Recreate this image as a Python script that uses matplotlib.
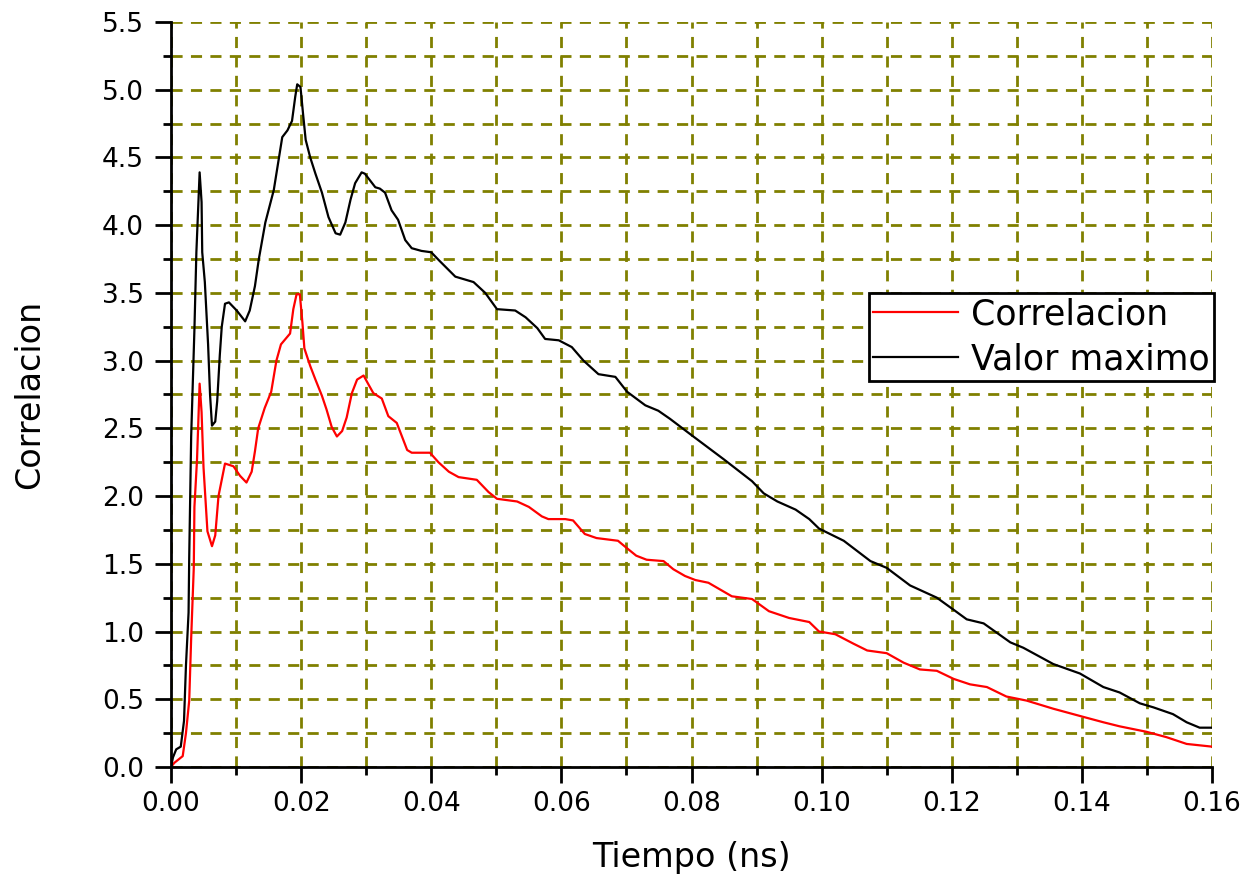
import matplotlib
matplotlib.use("Agg")
from matplotlib import pyplot as plt
from matplotlib.ticker import MultipleLocator


# tiempo (ns) y valores
t_max = [0, 0.0003, 0.0008, 0.0015, 0.002, 0.0023, 0.0027, 0.0028, 0.0031, 0.0036,
         0.0039, 0.0044, 0.0047, 0.0048, 0.0052, 0.0057, 0.0060, 0.0063, 0.0068, 0.0071,
         0.0075, 0.0078, 0.0083, 0.0089, 0.0101, 0.0114, 0.0121, 0.0129, 0.0135, 0.0145,
         0.0158, 0.0166, 0.0171, 0.0179, 0.0186, 0.0191, 0.0194, 0.0199, 0.0203, 0.0207,
         0.0214, 0.0222, 0.0232, 0.0242, 0.0253, 0.0260, 0.0268, 0.0276, 0.0283, 0.0293,
         0.0298, 0.0306, 0.0314, 0.0321, 0.0329, 0.0339, 0.0349, 0.0360, 0.0370, 0.0385,
         0.0400, 0.0412, 0.0437, 0.0465, 0.0483, 0.0501, 0.0529, 0.0545, 0.0563, 0.0575,
         0.0596, 0.0616, 0.0634, 0.0657, 0.0683, 0.0701, 0.0729, 0.0749, 0.0767, 0.0800,
         0.0850, 0.0893, 0.0911, 0.0932, 0.0960, 0.0981, 0.0996, 0.1034, 0.1075, 0.1100,
         0.1136, 0.1177, 0.1203, 0.1223, 0.1249, 0.1290, 0.1310, 0.1356, 0.1397, 0.1433,
         0.1458, 0.1489, 0.1510, 0.1540, 0.1561, 0.1581, 0.1600]
valor_maximo = [0, 0.07, 0.13, 0.15, 0.34, 0.75, 1.14, 1.55, 2.44, 3.23,
                3.80, 4.39, 4.17, 3.80, 3.58, 3.12, 2.75, 2.52, 2.55, 2.70,
                3.04, 3.25, 3.42, 3.43, 3.37, 3.29, 3.37, 3.55, 3.75, 4.02,
                4.26, 4.50, 4.65, 4.70, 4.77, 4.95, 5.04, 5.02, 4.82, 4.63,
                4.50, 4.38, 4.24, 4.06, 3.94, 3.93, 4.02, 4.19, 4.31, 4.39,
                4.38, 4.33, 4.28, 4.27, 4.24, 4.11, 4.04, 3.89, 3.83, 3.81,
                3.80, 3.74, 3.62, 3.58, 3.50, 3.38, 3.37, 3.32, 3.24, 3.16,
                3.15, 3.10, 3.00, 2.90, 2.88, 2.77, 2.67, 2.63, 2.57, 2.45,
                2.27, 2.11, 2.02, 1.96, 1.90, 1.83, 1.76, 1.67, 1.52, 1.47,
                1.34, 1.25, 1.16, 1.09, 1.06, 0.92, 0.88, 0.76, 0.69, 0.59,
                0.55, 0.47, 0.44, 0.39, 0.33, 0.29, 0.29]

t_corr = [0, 0.0005, 0.0018, 0.0023, 0.0028, 0.0031, 0.0035, 0.0036, 0.0040, 0.0044,
          0.0047, 0.0050, 0.0056, 0.0063, 0.0068, 0.0073, 0.0078, 0.0083, 0.0096, 0.0106,
          0.0116, 0.0124, 0.0129, 0.0134, 0.0144, 0.0154, 0.0162, 0.0169, 0.0183, 0.0188,
          0.0193, 0.0198, 0.0202, 0.0205, 0.0214, 0.0222, 0.0232, 0.0239, 0.0247, 0.0255,
          0.0263, 0.0270, 0.0278, 0.0286, 0.0296, 0.0304, 0.0311, 0.0324, 0.0334, 0.0347,
          0.0355, 0.0363, 0.0370, 0.0398, 0.0411, 0.0427, 0.0442, 0.0470, 0.0488, 0.0501,
          0.0532, 0.0550, 0.0570, 0.0580, 0.0606, 0.0618, 0.0636, 0.0654, 0.0687, 0.0697,
          0.0715, 0.0731, 0.0757, 0.0772, 0.0790, 0.0806, 0.0826, 0.0862, 0.0893, 0.0919,
          0.0950, 0.0981, 0.0996, 0.1021, 0.1049, 0.1070, 0.1100, 0.1126, 0.1151, 0.1177,
          0.1203, 0.1228, 0.1254, 0.1284, 0.1315, 0.1356, 0.1402, 0.1433, 0.1458, 0.1499,
          0.1530, 0.1561, 0.1600]
correlacion = [0, 0.03, 0.08, 0.25, 0.49, 0.95, 1.47, 1.92, 2.27, 2.83,
               2.62, 2.21, 1.74, 1.63, 1.71, 2.00, 2.12, 2.24, 2.22, 2.15,
               2.10, 2.18, 2.33, 2.50, 2.65, 2.77, 3.00, 3.12, 3.20, 3.38,
               3.49, 3.49, 3.28, 3.09, 2.96, 2.86, 2.74, 2.64, 2.51, 2.44,
               2.48, 2.58, 2.76, 2.86, 2.89, 2.82, 2.76, 2.72, 2.59, 2.54,
               2.44, 2.34, 2.32, 2.32, 2.25, 2.18, 2.14, 2.12, 2.03, 1.98,
               1.96, 1.92, 1.85, 1.83, 1.83, 1.82, 1.72, 1.69, 1.67, 1.63,
               1.56, 1.53, 1.52, 1.46, 1.41, 1.38, 1.36, 1.26, 1.24, 1.15,
               1.10, 1.07, 1.00, 0.98, 0.91, 0.86, 0.84, 0.77, 0.72, 0.71,
               0.65, 0.61, 0.59, 0.52, 0.49, 0.43, 0.37, 0.33, 0.30, 0.26,
               0.22, 0.17, 0.15]

plt.rcParams['font.family'] = ['DejaVu Sans']

fig = plt.figure(figsize=(12.5, 8.84), dpi=100)
ax = fig.add_axes([0.1368, 0.1324, 0.8328, 0.8427])

ax.plot(t_corr, correlacion, color="red", linewidth=1.6, label="Correlacion")
ax.plot(t_max, valor_maximo, color="black", linewidth=1.6, label="Valor maximo")

ax.set_xlim(0, 0.16)
ax.set_ylim(0, 5.5)
ax.xaxis.set_major_locator(MultipleLocator(0.02))
ax.xaxis.set_minor_locator(MultipleLocator(0.01))
ax.yaxis.set_major_locator(MultipleLocator(0.5))
ax.yaxis.set_minor_locator(MultipleLocator(0.25))
ax.xaxis.set_major_formatter(lambda v, pos: f"{v:.2f}")
ax.yaxis.set_major_formatter(lambda v, pos: f"{v:.1f}")

for side in ("top", "right"):
    ax.spines[side].set_visible(False)
for side in ("left", "bottom"):
    ax.spines[side].set_linewidth(2)

ax.tick_params(which="major", direction="out", length=11.5, width=2, labelsize=19, pad=6)
ax.tick_params(which="minor", direction="out", length=6, width=2)
ax.tick_params(axis="y", which="major", pad=8)

ax.grid(which="both", color="#808000", linestyle=(0, (4, 3)), linewidth=2)
ax.set_axisbelow(True)
# no grid on the outer limits
for tick in ax.xaxis.get_major_ticks() + ax.xaxis.get_minor_ticks():
    if abs(tick.get_loc() - 0.16) < 1e-9:
        tick.gridline.set_visible(False)
for tick in ax.yaxis.get_major_ticks() + ax.yaxis.get_minor_ticks():
    if abs(tick.get_loc() - 5.5) < 1e-9:
        tick.gridline.set_visible(False)

ax.set_xlabel("Tiempo (ns)", fontsize=24)
ax.set_ylabel("Correlacion", fontsize=24)
ax.xaxis.set_label_coords(0.5, -0.1)
ax.yaxis.set_label_coords(-0.12, 0.5)

leg = ax.legend(loc="upper right", bbox_to_anchor=(1.002, 0.636), fontsize=25,
                frameon=True, fancybox=False, framealpha=1, edgecolor="black",
                handlelength=2.45, handletextpad=0.38, labelspacing=0.32,
                borderpad=0.12, borderaxespad=0)
leg.get_frame().set_linewidth(2)

fig.savefig("out.png", dpi=100)
